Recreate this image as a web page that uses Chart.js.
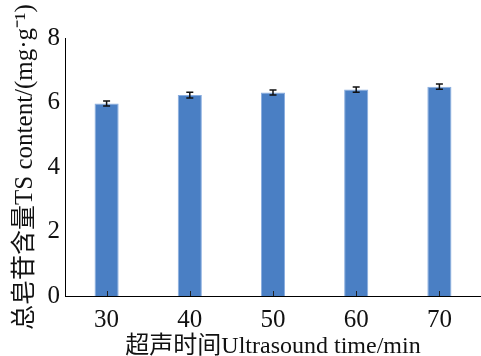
<!DOCTYPE html>
<html>
<head>
<meta charset="utf-8">
<script src="https://cdn.jsdelivr.net/npm/chart.js@4/dist/chart.umd.min.js"></script>
<style>
  html, body { margin: 0; padding: 0; background: #fff; }
  #wrap { width: 481px; height: 356px; }
</style>
</head>
<body>
<div id="wrap"><canvas id="c"></canvas></div>
<script>
// données
const categories = ["30", "40", "50", "60", "70"]
const tsContent = [5.97, 6.23, 6.31, 6.40, 6.49]
const tsError = [0.08, 0.09, 0.08, 0.08, 0.08]
const yTicks = [0, 2, 4, 6, 8]

const serif = "'Liberation Serif', 'Noto Sans CJK SC', serif"

// barres d'erreur + petites graduations internes sur l'axe x
const errorBars = {
  id: "errorBars",
  afterDatasetsDraw(chart) {
    const ctx = chart.ctx
    const x = chart.scales.x
    const y = chart.scales.y
    ctx.save()
    ctx.strokeStyle = "#111"
    ctx.lineWidth = 1.5
    tsContent.forEach((v, i) => {
      const px = x.getPixelForValue(i)
      const top = y.getPixelForValue(v + tsError[i])
      const bot = y.getPixelForValue(v - tsError[i])
      ctx.beginPath()
      ctx.moveTo(px, top); ctx.lineTo(px, bot)
      ctx.moveTo(px - 3.5, top); ctx.lineTo(px + 3.5, top)
      ctx.moveTo(px - 3.5, bot); ctx.lineTo(px + 3.5, bot)
      ctx.stroke()
    })
    ctx.strokeStyle = "#222"
    ctx.lineWidth = 1
    categories.forEach((c, i) => {
      const px = Math.round(x.getPixelForValue(i)) + 0.5
      ctx.beginPath()
      ctx.moveTo(px, x.top)
      ctx.lineTo(px, x.top - 5)
      ctx.stroke()
    })
    ctx.restore()
  }
}

new Chart(document.getElementById("c"), {
  type: "bar",
  data: {
    labels: categories,
    datasets: [{
      data: tsContent,
      backgroundColor: "#4a7fc4",
      borderColor: "#8aaee0",
      borderWidth: 1,
      barPercentage: 0.29,
      categoryPercentage: 1
    }]
  },
  options: {
    responsive: true,
    maintainAspectRatio: false,
    animation: false,
    layout: { padding: { top: 38, right: 0, left: 0, bottom: 0 } },
    plugins: { legend: { display: false }, tooltip: { enabled: false } },
    scales: {
      x: {
        grid: { display: false, drawTicks: false },
        border: { color: "#000", width: 1 },
        ticks: { color: "#111", font: { family: serif, size: 25, lineHeight: 1 }, padding: 12 },
        title: {
          display: true,
          text: "超声时间Ultrasound time/min",
          color: "#111",
          font: { family: serif, size: 24, lineHeight: 1 },
          padding: { top: 0, bottom: -3 }
        },
        afterFit(scale) { scale.height = 60 }
      },
      y: {
        min: 0,
        max: 8,
        afterBuildTicks(scale) { scale.ticks = yTicks.map(v => ({ value: v })) },
        grid: { display: false, drawTicks: false },
        border: { color: "#000", width: 1 },
        ticks: { color: "#111", font: { family: serif, size: 25 }, padding: 5 },
        title: {
          display: true,
          text: "总皂苷含量TS content/(mg·g⁻¹)",
          color: "#111",
          font: { family: serif, size: 25 },
          padding: { top: 10, bottom: 0 }
        },
        afterFit(scale) { scale.width = 65 }
      }
    }
  },
  plugins: [errorBars]
})
</script>
</body>
</html>
